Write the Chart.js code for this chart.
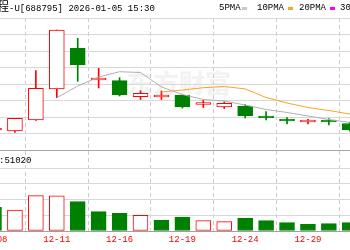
<!DOCTYPE html>
<html><head><meta charset="utf-8">
<script src="https://cdn.jsdelivr.net/npm/chart.js@4/dist/chart.umd.min.js"></script>
<style>
html,body{margin:0;padding:0;background:#fff;width:350px;height:250px;overflow:hidden;position:relative}
.t{position:absolute;font-family:"Liberation Mono","Noto Sans CJK SC",monospace;font-size:9px;color:#000;white-space:nowrap;line-height:12px}
canvas{position:absolute;left:-40px}
#c1{top:0}
#c2{top:151px}
#wm{position:absolute;left:127px;top:63px;font:bold 26px "Noto Sans CJK SC";color:#f2f2f2;white-space:nowrap}
.mk{position:absolute;height:3px;width:5px;top:7px}
</style></head>
<body>
<div id="wm">东方财富</div>
<canvas id="c1" width="430" height="151"></canvas>
<canvas id="c2" width="430" height="99"></canvas>
<div class="t" style="left:-39px;top:2px"><span style="font-size:12px">摩尔线程</span>-U[688795] 2026-01-05 15:30</div>
<div class="t" style="left:219px;top:2px">5PMA</div>
<div class="mk" style="left:242px;background:#c8c8c8"></div>
<div class="t" style="left:257px;top:2px">10PMA</div>
<div class="mk" style="left:288px;background:#f5a623"></div>
<div class="t" style="left:299px;top:2px">20PMA</div>
<div class="mk" style="left:330px;background:#ff00ff"></div>
<div class="t" style="left:340px;top:2px">30PMA</div>
<div class="t" style="left:-1px;top:155px">:51020</div>
<script>
const dates = ['12-08','12-09','12-10','12-11','12-12','12-15','12-16','12-17','12-18','12-19','12-22','12-23','12-24','12-25','12-26','12-29','12-30','12-31'];
const open  = [576.7,573.1,613.1,725.8,873.8,758.5,756.0,697.8,696.7,704.0,669.5,660.4,664.0,622.9,612.0,605.8,608.4,600.4];
const close = [584.0,619.3,728.4,940.4,813.1,760.4,704.0,710.2,698.5,660.4,671.3,673.8,628.7,620.4,609.5,608.0,605.8,576.7];
const high  = [587.6,619.3,792.4,940.4,910.2,801.1,766.9,719.6,718.5,704.0,684.0,679.6,669.5,644.0,622.2,615.6,618.5,605.8];
const low   = [573.1,567.6,611.3,694.2,753.8,729.5,700.4,687.6,687.6,656.7,658.5,654.9,620.4,613.1,598.5,598.5,594.9,573.1];
const ma5   = [null,null,null,694.2,736.7,769.5,788.7,785.8,733.1,705.8,687.6,682.2,667.6,651.3,640.4,627.6,614.9,604.0];
const ma10  = [null,null,null,null,null,null,null,null,714.9,722.2,730.5,734.9,726.2,694.9,674.9,658.5,647.6,634.9];
const volume = [60190,53330,89650,89200,74410,49020,44950,39870,27940,35560,26160,23620,33020,26160,21080,17020,18540,21080];
const prevClose = 598.5; // 12-05 close
const labelIdx = [0,3,6,9,12,15,18];
const priceTicks = [504,564,624,684,744,804,864,924,984];
const volTicks = [0,40000,80000,120000,160000];

const RED='#ff0000', GREEN='#008000';
const XMIN=-1.6245, XMAX=18.92;
const up = close.map((c,i)=>c>=open[i]);
const cCol = up.map(u=>u?RED:GREEN);
const cFill = up.map(u=>u?'#ffffff':GREEN);
const vUp = close.map((c,i)=>c>=(i?close[i-1]:prevClose));
const pts = arr => arr.map((v,i)=>v==null?null:{x:i,y:v}).filter(p=>p);

const xBase = {
  type:'linear', min:XMIN, max:XMAX, offset:false,
  afterBuildTicks: s=>{ s.ticks = labelIdx.map(v=>({value:v})); },
  grid:{color:'#cccccc', drawTicks:false, lineWidth:1},
  border:{display:false, dash:[4,3]}
};

new Chart(document.getElementById('c1'), {
  type:'bar',
  data:{datasets:[
    {type:'line', data:pts(ma5), borderColor:'#b0b0b0', borderWidth:1, pointRadius:0, order:0},
    {type:'line', data:pts(ma10), borderColor:'#f5a623', borderWidth:1, pointRadius:0, order:0},
    {data:dates.map((d,i)=>({x:i,y:[open[i],close[i]]})), backgroundColor:cFill, borderColor:cCol, borderWidth:1, borderSkipped:false, barThickness:15, minBarLength:2, grouped:false, order:1},
    {data:dates.map((d,i)=>({x:i,y:[low[i],high[i]]})), backgroundColor:cCol, borderWidth:0, barThickness:1, grouped:false, order:2}
  ]},
  options:{
    responsive:false, animation:false, events:[],
    layout:{padding:{top:18,bottom:1,left:0,right:0}},
    plugins:{legend:{display:false}, tooltip:{enabled:false}},
    scales:{
      x:Object.assign({}, xBase, {ticks:{display:false}}),
      y:{min:504, max:984, afterBuildTicks:s=>{ s.ticks = priceTicks.map(v=>({value:v})); },
         ticks:{display:false}, grid:{drawTicks:false, color:c=>c.tick.value===504?'#a8a8a8':'#d8d8d8'}, border:{display:false}}
    }
  }
});

new Chart(document.getElementById('c2'), {
  type:'bar',
  data:{datasets:[
    {data:volume.map((v,i)=>({x:i,y:v})), backgroundColor:vUp.map(u=>u?'#ffffff':GREEN), borderColor:vUp.map(u=>u?RED:GREEN), borderWidth:1, borderSkipped:false, barThickness:15, grouped:false}
  ]},
  options:{
    responsive:false, animation:false, events:[],
    layout:{padding:0},
    plugins:{legend:{display:false}, tooltip:{enabled:false}},
    scales:{
      x:Object.assign({}, xBase, {
        ticks:{display:true, color:RED, font:{family:'Liberation Mono', size:9}, padding:3, autoSkip:false, maxRotation:0, callback:v=>dates[v]||''},
        afterFit:s=>{ s.height=19; }
      }),
      y:{min:0, max:203176, afterBuildTicks:s=>{ s.ticks = volTicks.map(v=>({value:v})); },
         ticks:{display:false}, grid:{drawTicks:false, color:c=>c.tick.value===0?'#a0a0a0':'#d8d8d8'}, border:{display:false}}
    }
  }
});
</script>
</body></html>
